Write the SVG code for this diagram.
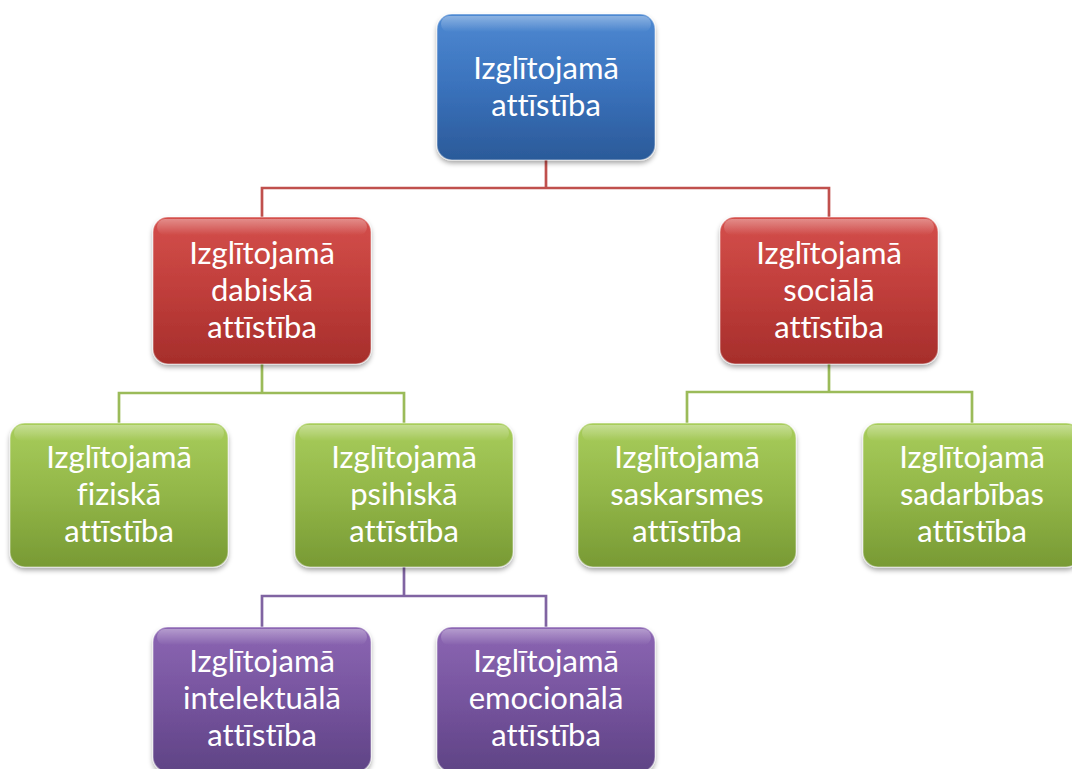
<svg xmlns="http://www.w3.org/2000/svg" width="1072" height="769" viewBox="0 0 1072 769">
<defs>
<linearGradient id="gBlue" x1="0" y1="0" x2="0" y2="1"><stop offset="0" stop-color="#4E89D2"/><stop offset="0.5" stop-color="#3A72BC"/><stop offset="1" stop-color="#2B5A99"/></linearGradient>
<linearGradient id="gRed" x1="0" y1="0" x2="0" y2="1"><stop offset="0" stop-color="#D44F4B"/><stop offset="0.5" stop-color="#C03E3B"/><stop offset="1" stop-color="#A62E2B"/></linearGradient>
<linearGradient id="gGreen" x1="0" y1="0" x2="0" y2="1"><stop offset="0" stop-color="#A8CD5B"/><stop offset="0.5" stop-color="#92B648"/><stop offset="1" stop-color="#789A34"/></linearGradient>
<linearGradient id="gPurple" x1="0" y1="0" x2="0" y2="1"><stop offset="0" stop-color="#8C66B3"/><stop offset="0.5" stop-color="#76549E"/><stop offset="1" stop-color="#5F4385"/></linearGradient>
<linearGradient id="gGloss" x1="0" y1="0" x2="0" y2="1"><stop offset="0" stop-color="#FFFFFF" stop-opacity="0.35"/><stop offset="1" stop-color="#FFFFFF" stop-opacity="0"/></linearGradient>
<filter id="shadow" x="-10%" y="-10%" width="120%" height="130%"><feDropShadow dx="0" dy="3" stdDeviation="2.5" flood-color="#000000" flood-opacity="0.35"/></filter>
</defs>
<style>
.box{stroke:#FFFFFF;stroke-opacity:0.35;stroke-width:1.5;filter:url(#shadow)}
.gloss{fill:url(#gGloss)}
.lbl{font-family:Lato,"Noto Sans","Liberation Sans",sans-serif;font-size:31px;fill:#FFFFFF;text-anchor:middle;font-variant-ligatures:none;font-feature-settings:"liga" 0,"dlig" 0,"clig" 0}
.conn{fill:none;stroke-width:2.7}
</style>
<g id="connectors">
<path class="conn" stroke="#C0504D" d="M546,160 V188 H262 V217 M546,188 H829 V217"/>
<path class="conn" stroke="#9BBB59" d="M262,364 V393 H119 V423 M262,393 H404 V423"/>
<path class="conn" stroke="#9BBB59" d="M829,364 V392 H687 V423 M829,392 H972 V423"/>
<path class="conn" stroke="#8064A2" d="M404,567 V596 H262 V627 M404,596 H546 V627"/>
</g>
<g id="n-root">
<rect class="box" x="437" y="14" width="218" height="146" rx="15" fill="url(#gBlue)"/>
<rect class="gloss" x="441" y="16" width="210" height="16" rx="8"/>
<text class="lbl" x="546" y="79">Izglītojamā</text>
<text class="lbl" x="546" y="116">attīstība</text>
</g>
<g id="n-dabiska">
<rect class="box" x="153" y="217" width="218" height="147" rx="15" fill="url(#gRed)"/>
<rect class="gloss" x="157" y="219" width="210" height="16" rx="8"/>
<text class="lbl" x="262" y="264">Izglītojamā</text>
<text class="lbl" x="262" y="301">dabiskā</text>
<text class="lbl" x="262" y="338">attīstība</text>
</g>
<g id="n-sociala">
<rect class="box" x="720" y="217" width="218" height="147" rx="15" fill="url(#gRed)"/>
<rect class="gloss" x="724" y="219" width="210" height="16" rx="8"/>
<text class="lbl" x="829" y="264">Izglītojamā</text>
<text class="lbl" x="829" y="301">sociālā</text>
<text class="lbl" x="829" y="338">attīstība</text>
</g>
<g id="n-fiziska">
<rect class="box" x="10" y="423" width="218" height="144" rx="15" fill="url(#gGreen)"/>
<rect class="gloss" x="14" y="425" width="210" height="16" rx="8"/>
<text class="lbl" x="119" y="468">Izglītojamā</text>
<text class="lbl" x="119" y="505">fiziskā</text>
<text class="lbl" x="119" y="542">attīstība</text>
</g>
<g id="n-psihiska">
<rect class="box" x="295" y="423" width="218" height="144" rx="15" fill="url(#gGreen)"/>
<rect class="gloss" x="299" y="425" width="210" height="16" rx="8"/>
<text class="lbl" x="404" y="468">Izglītojamā</text>
<text class="lbl" x="404" y="505">psihiskā</text>
<text class="lbl" x="404" y="542">attīstība</text>
</g>
<g id="n-saskarsmes">
<rect class="box" x="578" y="423" width="218" height="144" rx="15" fill="url(#gGreen)"/>
<rect class="gloss" x="582" y="425" width="210" height="16" rx="8"/>
<text class="lbl" x="687" y="468">Izglītojamā</text>
<text class="lbl" x="687" y="505">saskarsmes</text>
<text class="lbl" x="687" y="542">attīstība</text>
</g>
<g id="n-sadarbibas">
<rect class="box" x="863" y="423" width="218" height="144" rx="15" fill="url(#gGreen)"/>
<rect class="gloss" x="867" y="425" width="210" height="16" rx="8"/>
<text class="lbl" x="972" y="468">Izglītojamā</text>
<text class="lbl" x="972" y="505">sadarbības</text>
<text class="lbl" x="972" y="542">attīstība</text>
</g>
<g id="n-intelektuala">
<rect class="box" x="153" y="627" width="218" height="145" rx="15" fill="url(#gPurple)"/>
<rect class="gloss" x="157" y="629" width="210" height="16" rx="8"/>
<text class="lbl" x="262" y="672">Izglītojamā</text>
<text class="lbl" x="262" y="709">intelektuālā</text>
<text class="lbl" x="262" y="746">attīstība</text>
</g>
<g id="n-emocionala">
<rect class="box" x="437" y="627" width="218" height="145" rx="15" fill="url(#gPurple)"/>
<rect class="gloss" x="441" y="629" width="210" height="16" rx="8"/>
<text class="lbl" x="546" y="672">Izglītojamā</text>
<text class="lbl" x="546" y="709">emocionālā</text>
<text class="lbl" x="546" y="746">attīstība</text>
</g>
</svg>
